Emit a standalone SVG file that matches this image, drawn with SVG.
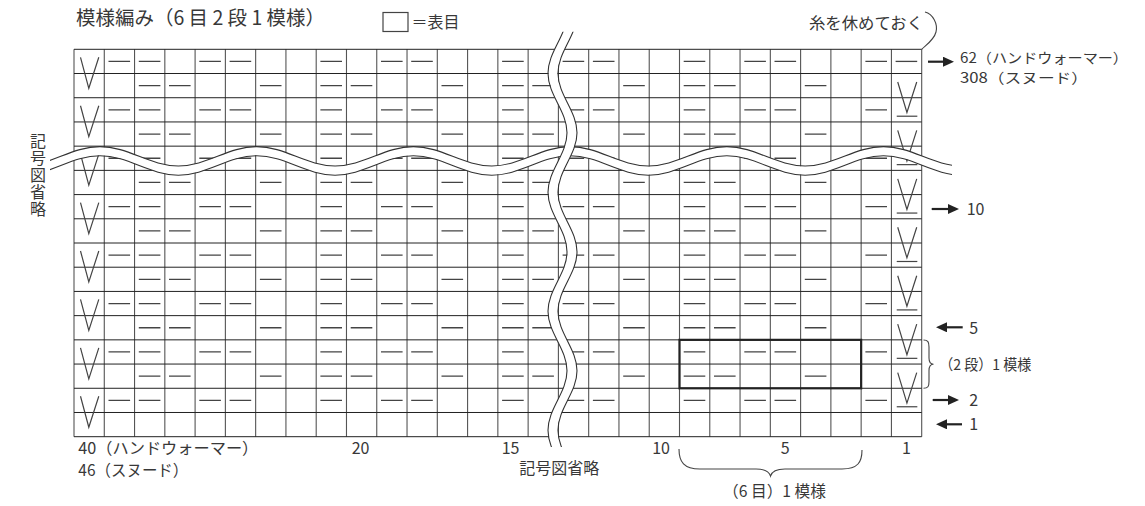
<svg xmlns="http://www.w3.org/2000/svg" xmlns:xlink="http://www.w3.org/1999/xlink" width="1145" height="506" viewBox="0 0 1145 506">
<style>
text{font-family:"Noto Sans CJK JP","Noto Sans",sans-serif;fill:#383838;}
.vl{stroke:#555;stroke-width:1.1;fill:none;}
.hl{stroke:#222;stroke-width:1;fill:none;}
.dash{stroke:#444;stroke-width:1.3;fill:none;}
.sym{stroke:#444;stroke-width:1.2;fill:none;}
.wline{stroke:#333;stroke-width:1.1;fill:none;}
.wband{fill:none;stroke:#fff;}
.arr{stroke:#222;stroke-width:2.2;fill:none;marker-end:url(#ah);}
.brace{stroke:#444;stroke-width:1.1;fill:none;}
</style>
<defs>
<marker id="ah" markerUnits="userSpaceOnUse" markerWidth="11" markerHeight="10" refX="7" refY="5" orient="auto">
<path d="M0,0 L11,5 L0,10 z" fill="#222"/>
</marker>
<path id="evenRow" class="dash" d="M108.5 0h21.6M138.8 0h21.6M199.3 0h21.6M229.6 0h21.6M320.4 0h21.6M381 0h21.6M411.2 0h21.6M502.1 0h21.6M562.6 0h21.6M592.9 0h21.6M683.7 0h21.6M744.3 0h21.6M774.5 0h21.6M865.4 0h21.6"/>
<path id="oddRow" class="dash" d="M138.8 0h21.6M169 0h21.6M259.9 0h21.6M320.4 0h21.6M350.7 0h21.6M441.5 0h21.6M502.1 0h21.6M532.3 0h21.6M623.2 0h21.6M683.7 0h21.6M714 0h21.6M804.8 0h21.6"/>
<path id="vLeft" class="sym" d="M6.5 8L14.8 39L24.8 8"/>
<g id="vRight" class="sym"><path d="M6.3 8.5L15.5 39L25.3 8.5"/><path d="M5.3 42.7H25.9"/></g>
<path id="hwave" d="M-56.7,151.2 C-28.23,151.2 -6.82,170.6 21.65,170.6 S71.53,151.2 100,151.2 S149.88,170.6 178.35,170.6 S228.23,151.2 256.7,151.2 S306.58,170.6 335.05,170.6 S384.93,151.2 413.4,151.2 S463.28,170.6 491.75,170.6 S541.63,151.2 570.1,151.2 S619.98,170.6 648.45,170.6 S698.33,151.2 726.8,151.2 S776.68,170.6 805.15,170.6 S855.03,151.2 883.5,151.2 S933.38,170.6 961.85,170.6 S1011.73,151.2 1040.2,151.2"/>
<path id="vwave" d="M572,13.8 C572,35.42 553,51.68 553,73.3 S572,111.18 572,132.8 S553,170.68 553,192.3 S572,230.18 572,251.8 S553,289.68 553,311.3 S572,349.18 572,370.8 S553,408.68 553,430.3 S572,468.18 572,489.8"/>
<clipPath id="hclip"><rect x="50" y="120" width="902" height="80"/></clipPath>
<clipPath id="vclip"><rect x="530" y="31.7" width="70" height="415.3"/></clipPath>
</defs>

<g id="title">
<text x="76" y="25" font-size="19.5" textLength="249" lengthAdjust="spacingAndGlyphs">模様編み（6 目 2 段 1 模様）</text>
</g>
<g id="legend">
<rect x="383" y="12.5" width="25" height="19" fill="none" stroke="#444" stroke-width="1.2"/>
<text x="411.5" y="27.5" font-size="16">＝表目</text>
</g>

<g id="grid">
<path class="vl" d="M74 49.3V436.7M104.28 49.3V436.7M134.55 49.3V436.7M164.83 49.3V436.7M195.1 49.3V436.7M225.38 49.3V436.7M255.65 49.3V436.7M285.93 49.3V436.7M316.2 49.3V436.7M346.48 49.3V436.7M376.75 49.3V436.7M407.03 49.3V436.7M437.3 49.3V436.7M467.58 49.3V436.7M497.85 49.3V436.7M528.13 49.3V436.7M558.4 49.3V436.7M588.68 49.3V436.7M618.95 49.3V436.7M649.23 49.3V436.7M679.5 49.3V436.7M709.78 49.3V436.7M740.05 49.3V436.7M770.33 49.3V436.7M800.6 49.3V436.7M830.88 49.3V436.7M861.15 49.3V436.7M891.43 49.3V436.7M921.7 49.3V436.7"/>
<path class="hl" d="M74 49.3H921.7M74 73.51H921.7M74 97.73H921.7M74 121.94H921.7M74 146.15H921.7M74 170.36H921.7M74 194.58H921.7M74 218.79H921.7M74 243H921.7M74 267.21H921.7M74 291.43H921.7M74 315.64H921.7M74 339.85H921.7M74 364.06H921.7M74 388.28H921.7M74 412.49H921.7M74 436.7H921.7"/>
</g>

<g id="stitches">
<use xlink:href="#evenRow" href="#evenRow" y="61.41"/>
<use xlink:href="#evenRow" href="#evenRow" y="109.83"/>
<use xlink:href="#evenRow" href="#evenRow" y="158.26"/>
<use xlink:href="#evenRow" href="#evenRow" y="206.68"/>
<use xlink:href="#evenRow" href="#evenRow" y="255.11"/>
<use xlink:href="#evenRow" href="#evenRow" y="303.53"/>
<use xlink:href="#evenRow" href="#evenRow" y="351.96"/>
<use xlink:href="#evenRow" href="#evenRow" y="400.38"/>
<use xlink:href="#oddRow" href="#oddRow" y="85.62"/>
<use xlink:href="#oddRow" href="#oddRow" y="134.05"/>
<use xlink:href="#oddRow" href="#oddRow" y="182.47"/>
<use xlink:href="#oddRow" href="#oddRow" y="230.9"/>
<use xlink:href="#oddRow" href="#oddRow" y="279.32"/>
<use xlink:href="#oddRow" href="#oddRow" y="327.75"/>
<use xlink:href="#oddRow" href="#oddRow" y="376.17"/>
<path class="dash" d="M895.6 61.41h21.6"/>
<use xlink:href="#vLeft" href="#vLeft" x="74" y="49.3"/>
<use xlink:href="#vLeft" href="#vLeft" x="74" y="97.73"/>
<use xlink:href="#vLeft" href="#vLeft" x="74" y="146.15"/>
<use xlink:href="#vLeft" href="#vLeft" x="74" y="194.58"/>
<use xlink:href="#vLeft" href="#vLeft" x="74" y="243"/>
<use xlink:href="#vLeft" href="#vLeft" x="74" y="291.43"/>
<use xlink:href="#vLeft" href="#vLeft" x="74" y="339.85"/>
<use xlink:href="#vLeft" href="#vLeft" x="74" y="388.28"/>
<use xlink:href="#vRight" href="#vRight" x="891.43" y="73.51"/>
<use xlink:href="#vRight" href="#vRight" x="891.43" y="121.94"/>
<use xlink:href="#vRight" href="#vRight" x="891.43" y="170.36"/>
<use xlink:href="#vRight" href="#vRight" x="891.43" y="218.79"/>
<use xlink:href="#vRight" href="#vRight" x="891.43" y="267.21"/>
<use xlink:href="#vRight" href="#vRight" x="891.43" y="315.64"/>
<use xlink:href="#vRight" href="#vRight" x="891.43" y="364.06"/>
</g>

<g id="repeat-box">
<rect x="679.5" y="339.85" width="181.65" height="48.43" fill="none" stroke="#222" stroke-width="2.2"/>
</g>

<g id="break-horizontal" clip-path="url(#hclip)">
<use xlink:href="#hwave" href="#hwave" class="wband" stroke-width="8.2"/>
<use xlink:href="#hwave" href="#hwave" class="wline" y="-4.6"/>
<use xlink:href="#hwave" href="#hwave" class="wline" y="4.6"/>
</g>
<g id="break-vertical" clip-path="url(#vclip)">
<use xlink:href="#vwave" href="#vwave" class="wband" stroke-width="9"/>
<use xlink:href="#vwave" href="#vwave" class="wline" x="-5"/>
<use xlink:href="#vwave" href="#vwave" class="wline" x="5"/>
</g>

<g id="connectors">
<path class="brace" d="M925,12 C933,14 938,24 936,32 C934,40 926,45 921.7,49.3"/>
<path class="arr" d="M928,61.7 H950"/>
<path class="arr" d="M931.7,209 H955"/>
<path class="arr" d="M962.7,327.3 H940"/>
<path class="arr" d="M932.7,400 H955"/>
<path class="arr" d="M962,424.3 H940"/>
<path class="brace" d="M923.5,340 C928,340 929,342 929,347 L929,358 C929,362 930,364.2 933.5,364.2 C930,364.2 929,366.5 929,370.5 L929,381.5 C929,386.5 928,388.3 923.5,388.3"/>
<path class="brace" d="M679,449 C679,462 684,469 700,469 L756,469 C765,469 769,471 770.5,476 C772,471 776,469 785,469 L842,469 C858,469 862,462 862,450"/>
</g>

<g id="labels">
<text x="809" y="28.5" font-size="16" textLength="114" lengthAdjust="spacingAndGlyphs">糸を休めておく</text>
<text x="960" y="62.5" font-size="14" textLength="168" lengthAdjust="spacingAndGlyphs">62（ハンドウォーマー）</text>
<text x="960" y="83" font-size="14" textLength="128" lengthAdjust="spacingAndGlyphs">308（スヌード）</text>
<text x="966.7" y="214.5" font-size="16">10</text>
<text x="969.3" y="334" font-size="16">5</text>
<text x="939.3" y="369.5" font-size="15" textLength="92" lengthAdjust="spacingAndGlyphs">（2 段）1 模様</text>
<text x="969.3" y="405.5" font-size="16">2</text>
<text x="969.3" y="430.3" font-size="16">1</text>
<text x="38" y="133" font-size="16" letter-spacing="1" style="writing-mode:vertical-rl">記号図省略</text>
<text x="78.3" y="454.3" font-size="16" textLength="180" lengthAdjust="spacingAndGlyphs">40（ハンドウォーマー）</text>
<text x="78.3" y="476.3" font-size="16" textLength="110" lengthAdjust="spacingAndGlyphs">46（スヌード）</text>
<text x="351.7" y="454.3" font-size="16">20</text>
<text x="501.7" y="454.3" font-size="16">15</text>
<text x="519.3" y="473.5" font-size="16">記号図省略</text>
<text x="670" y="454.3" font-size="16" text-anchor="end">10</text>
<text x="780.7" y="454.3" font-size="16">5</text>
<text x="902" y="454.3" font-size="16">1</text>
<text x="723" y="497" font-size="16" textLength="103" lengthAdjust="spacingAndGlyphs">（6 目）1 模様</text>
</g>
</svg>
